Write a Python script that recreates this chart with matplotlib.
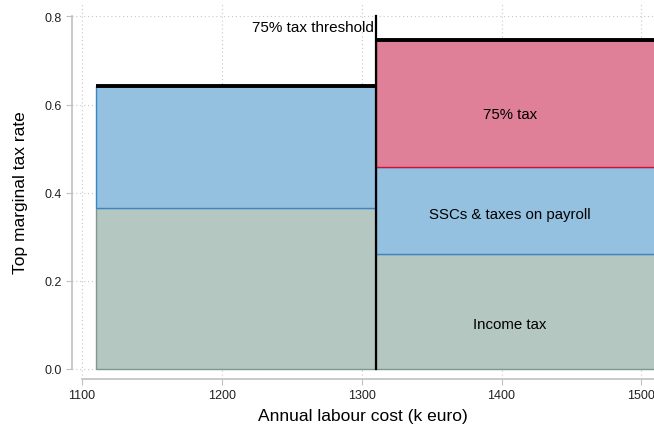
import matplotlib.pyplot as plt

plt.rcParams['font.family'] = ['Liberation Sans', 'DejaVu Sans']

# block edges along the x axis (k euro)
x_left = [1110, 1310]
x_right = [1310, 1520]
# stacked shares in each block
income_tax = [0.365, 0.261]
sscs = [0.277, 0.197]
tax75 = [0.0, 0.288]
threshold = 1310
block_labels = ["Income tax", "SSCs & taxes on payroll", "75% tax"]
label_y = [0.102, 0.351, 0.578]
label_x = 1406

xticks = [1100, 1200, 1300, 1400, 1500]
yticks = [0.0, 0.2, 0.4, 0.6, 0.8]

fig = plt.figure(figsize=(6.54, 4.27), dpi=100)
ax = fig.add_axes([72 / 654, 47 / 427, 582 / 654, 375 / 427])

for i in range(2):
    w = x_right[i] - x_left[i]
    b0 = 0
    ax.bar(x_left[i], income_tax[i], width=w, bottom=b0, align='edge',
           color='#b5c7c1', edgecolor='#7d998f', linewidth=1, zorder=2)
    b0 += income_tax[i]
    ax.bar(x_left[i], sscs[i], width=w, bottom=b0, align='edge',
           color='#95c1e0', edgecolor='#3a86c8', linewidth=1, zorder=2)
    b0 += sscs[i]
    if tax75[i] > 0:
        ax.bar(x_left[i], tax75[i], width=w, bottom=b0, align='edge',
               color='#e08098', edgecolor='#d0103a', linewidth=1, zorder=2)
        b0 += tax75[i]
    ax.plot([x_left[i], x_right[i]], [b0, b0], color='black', lw=2.8,
            zorder=4, solid_capstyle='butt')

ax.plot([threshold, threshold], [0, 0.8], color='black', lw=1.6, zorder=5)
ax.text(threshold - 1, 0.776, "75% tax threshold", ha='right', va='center',
        fontsize=11, zorder=6)

for lab, yy in zip(block_labels, label_y):
    ax.text(label_x, yy, lab, ha='center', va='center', fontsize=10.8, zorder=6)

ax.set_xlim(1093, 1509)
ax.set_ylim(-0.0227, 0.828)
ax.set_xticks(xticks)
ax.set_yticks(yticks)
ax.set_yticklabels(["0.0", "0.2", "0.4", "0.6", "0.8"])
ax.grid(True, color='#c8c8c8', linestyle=(0, (1, 2.5)), linewidth=0.8, zorder=0)
ax.set_axisbelow(True)

for s in ['top', 'right']:
    ax.spines[s].set_visible(False)
ax.spines['left'].set_bounds(0, 0.8)
ax.spines['bottom'].set_bounds(1100, 1509)
for s in ['left', 'bottom']:
    ax.spines[s].set_color('#c0c0c0')
    ax.spines[s].set_linewidth(1.2)
ax.tick_params(colors='#c0c0c0', labelcolor='#222222', labelsize=9, length=4)

ax.set_xlabel("Annual labour cost (k euro)", fontsize=12.5, labelpad=5)
ax.set_ylabel("Top marginal tax rate", fontsize=12.5, labelpad=12)

fig.savefig("out.png", dpi=100)
